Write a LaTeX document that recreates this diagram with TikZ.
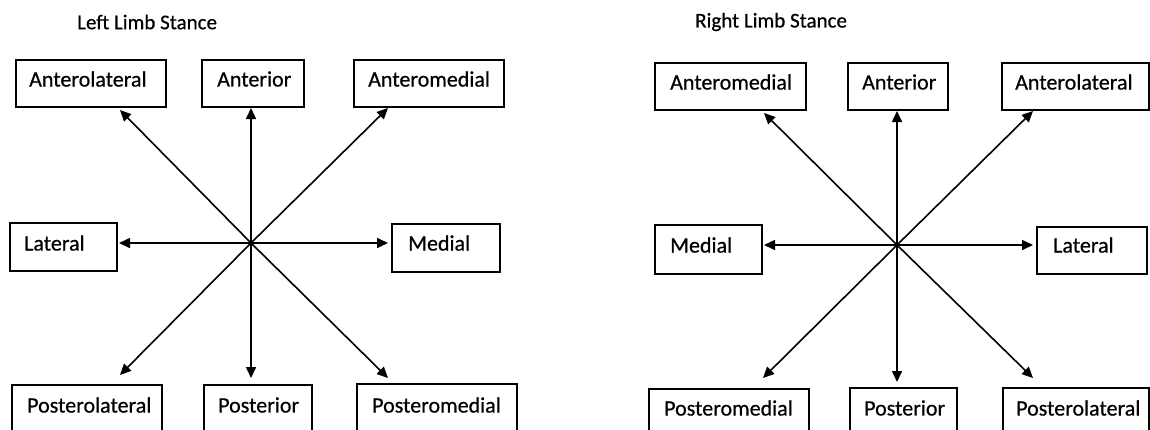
\documentclass[tikz,border=0pt]{standalone}
\usepackage{fontspec}
\setmainfont{Carlito}
\newfontfamily\heavyfont[FakeBold=0.6]{Carlito}
\usetikzlibrary{arrows.meta}
\begin{document}
\begin{tikzpicture}[x=1pt,y=-1pt,
  box/.style={draw, line width=1.5pt, inner sep=0pt, anchor=north west},
  lbl/.style={font=\heavyfont\fontsize{22}{22}\selectfont, anchor=west, inner sep=0pt},
  ttl/.style={font=\heavyfont\fontsize{21}{21}\selectfont, anchor=west, inner sep=0pt},
  arr/.style={line width=1.6pt, -{Triangle[length=11pt,width=10pt]}}]
\useasboundingbox (0,0) rectangle (1150,429);
\clip (0,0) rectangle (1150,429);
% ---------- Left limb stance ----------
\node[ttl] (t1) at (77,22) {Left Limb Stance};
\node[box, minimum width=150pt, minimum height=47pt] (lal) at (15,59) {};
\node[box, minimum width=102pt, minimum height=47pt] (lan) at (201,59) {};
\node[box, minimum width=150pt, minimum height=47pt] (lam) at (353,59) {};
\node[box, minimum width=107pt, minimum height=48pt] (llat) at (9,222) {};
\node[box, minimum width=108pt, minimum height=48pt] (lmed) at (391,223) {};
\node[box, minimum width=150pt, minimum height=80pt] (lpl) at (11,384) {};
\node[box, minimum width=108pt, minimum height=80pt] (lpo) at (203,384) {};
\node[box, minimum width=160pt, minimum height=80pt] (lpm) at (356,383) {};
\node[lbl] (lalt) at (29,79) {Anterolateral};
\node[lbl] (lant) at (217,79) {Anterior};
\node[lbl] (lamt) at (368,79) {Anteromedial};
\node[lbl] (llatt) at (24,243) {Lateral};
\node[lbl] (lmedt) at (408,243) {Medial};
\node[lbl] (lplt) at (27,405) {Posterolateral};
\node[lbl] (lpot) at (218,405) {Posterior};
\node[lbl] (lpmt) at (372,405) {Posteromedial};
\coordinate (lc) at (251,243);
\coordinate (la1) at (120,110);
\coordinate (la2) at (251,108);
\coordinate (la3) at (388,108);
\coordinate (la4) at (119,243);
\coordinate (la5) at (388,243);
\coordinate (la6) at (120,375);
\coordinate (la7) at (251,378);
\coordinate (la8) at (388,378);
\foreach \t in {la1,la2,la3,la4,la5,la6,la7,la8} \draw[arr] (lc) -- (\t);
% ---------- Right limb stance ----------
\node[ttl] (t2) at (695,22) {Right Limb Stance};
\node[box, minimum width=151pt, minimum height=47pt] (ram) at (654,62) {};
\node[box, minimum width=100pt, minimum height=47pt] (ran) at (847,62) {};
\node[box, minimum width=147pt, minimum height=47pt] (ral) at (1001,62) {};
\node[box, minimum width=107pt, minimum height=49pt] (rmed) at (654,224) {};
\node[box, minimum width=110pt, minimum height=47pt] (rlat) at (1036,226) {};
\node[box, minimum width=160pt, minimum height=80pt] (rpm) at (648,388) {};
\node[box, minimum width=107pt, minimum height=80pt] (rpo) at (849,387) {};
\node[box, minimum width=146pt, minimum height=80pt] (rpl) at (1002,387) {};
\node[lbl] (ramt) at (670,82) {Anteromedial};
\node[lbl] (rant) at (862,82) {Anterior};
\node[lbl] (ralt) at (1015,82) {Anterolateral};
\node[lbl] (rmedt) at (670,245) {Medial};
\node[lbl] (rlatt) at (1053,245) {Lateral};
\node[lbl] (rpmt) at (664,408) {Posteromedial};
\node[lbl] (rpot) at (864,408) {Posterior};
\node[lbl] (rplt) at (1016,408) {Posterolateral};
\coordinate (rc) at (897,245);
\coordinate (ra1) at (764,113);
\coordinate (ra2) at (897,111);
\coordinate (ra3) at (1033,111);
\coordinate (ra4) at (764,245);
\coordinate (ra5) at (1033,245);
\coordinate (ra6) at (763,378);
\coordinate (ra7) at (897,382);
\coordinate (ra8) at (1033,378);
\foreach \t in {ra1,ra2,ra3,ra4,ra5,ra6,ra7,ra8} \draw[arr] (rc) -- (\t);
\end{tikzpicture}
\end{document}
